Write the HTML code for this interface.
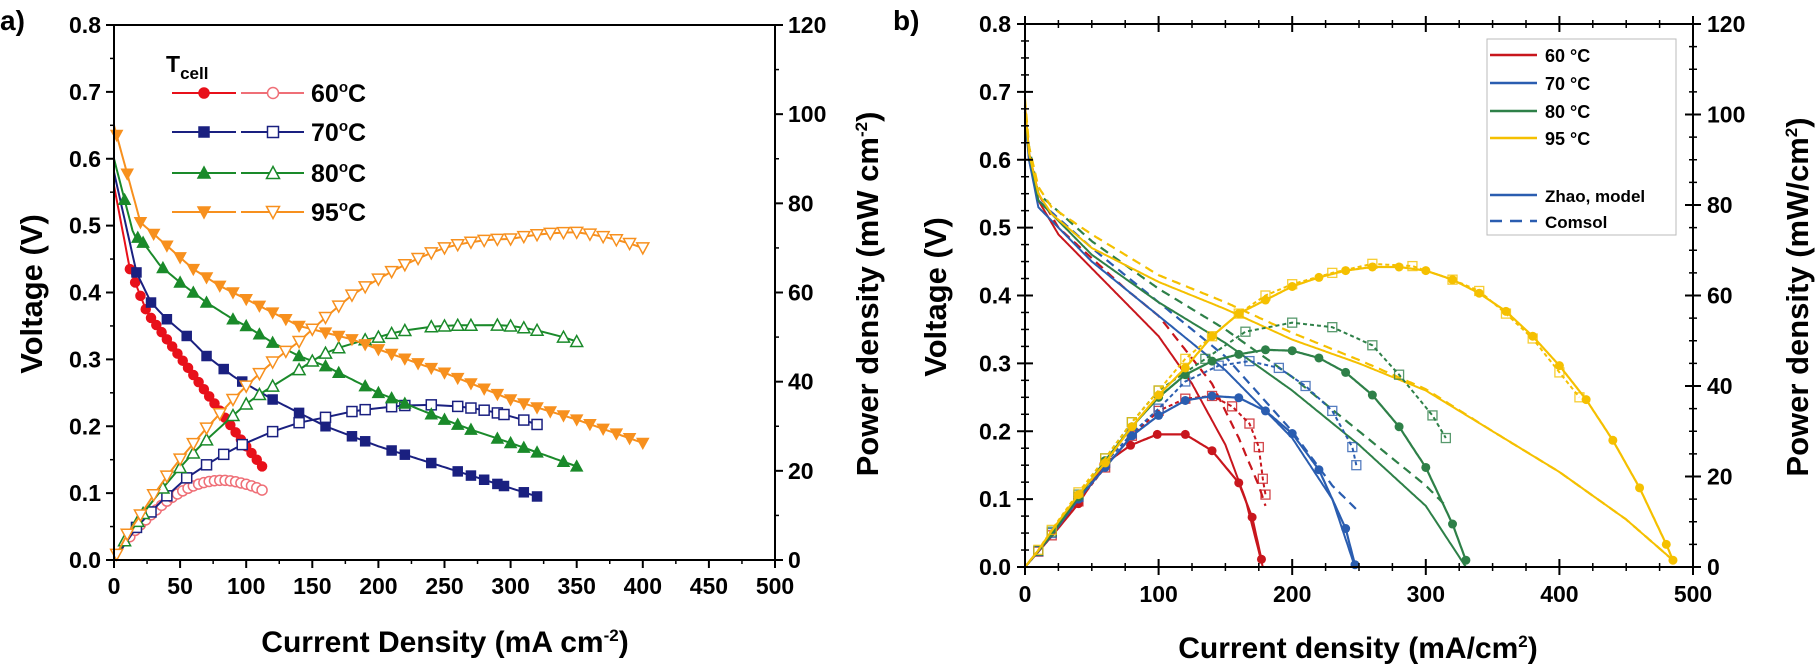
<!DOCTYPE html>
<html><head><meta charset="utf-8"><style>
html,body{margin:0;padding:0;background:#fff;}
svg{display:block;font-family:"Liberation Sans",Arial,sans-serif;font-weight:bold;}
</style></head><body>
<svg id="s" width="1816" height="667" viewBox="0 0 1816 667" xmlns="http://www.w3.org/2000/svg"></svg>
<script>
const S=document.getElementById('s');let h='';
function interp(pts,x){for(let i=0;i<pts.length-1;i++){if(x>=pts[i][0]&&x<=pts[i+1][0]){const t=(x-pts[i][0])/(pts[i+1][0]-pts[i][0]);return pts[i][1]+t*(pts[i+1][1]-pts[i][1]);}}return pts[pts.length-1][1];}
function path(pts,X,Y,col,w,dash){let d=pts.map((p,i)=>(i?'L':'M')+X(p[0]).toFixed(1)+' '+Y(p[1]).toFixed(1)).join(' ');h+=`<path d="${d}" fill="none" stroke="${col}" stroke-width="${w}" ${dash?'stroke-dasharray="'+dash+'"':''}/>`;}
function smooth(pts,step){let a=[];const x0=pts[0][0],x1=pts[pts.length-1][0];for(let x=x0;x<x1;x+=step)a.push([x,interp(pts,x)]);a.push([x1,pts[pts.length-1][1]]);return a;}
function mk(type,x,y,col,fill,r){r=r||5;const f=fill?col:'#fff';
 if(type=='c')h+=`<circle cx="${x}" cy="${y}" r="${r}" fill="${f}" stroke="${col}" stroke-width="1.5"/>`;
 else if(type=='s')h+=`<rect x="${x-r}" y="${y-r}" width="${2*r}" height="${2*r}" fill="${f}" stroke="${col}" stroke-width="1.5"/>`;
 else if(type=='t')h+=`<polygon points="${x},${y-r-1} ${x-r-1},${y+r} ${x+r+1},${y+r}" fill="${f}" stroke="${col}" stroke-width="1.5"/>`;
 else h+=`<polygon points="${x},${y+r+1} ${x-r-1},${y-r} ${x+r+1},${y-r}" fill="${f}" stroke="${col}" stroke-width="1.5"/>`;}
function txt(x,y,s,size,anchor,extra){h+=`<text x="${x}" y="${y}" font-size="${size}" text-anchor="${anchor||'middle'}" ${extra||''}>${s}</text>`;}

// ---------- Panel a ----------
const aX=i=>114+i*661/500, aV=v=>560-v/0.8*535, aP=p=>560-p/120*535;
const A=[
 ['#e8101a','#ef6f77','c',[[0,0.56],[12,0.435],[25,0.37],[40,0.33],[55,0.29],[70,0.25],[85,0.21],[96,0.18],[108,0.15],[112,0.14]],[12,16,20,24,28,32,36,40,44,48,52,56,60,64,68,72,76,80,84,88,92,96,100,104,108,112]],
 ['#1a2080','#1a2080','s',[[0,0.58],[17,0.43],[28,0.385],[40,0.36],[55,0.335],[70,0.305],[90,0.275],[120,0.24],[140,0.22],[160,0.2],[200,0.17],[240,0.145],[280,0.12],[320,0.095]],[17,28,40,55,70,83,97,120,140,160,180,190,210,220,240,260,270,280,290,295,310,320]],
 ['#1a8a2a','#1a8a2a','t',[[0,0.6],[15,0.485],[20,0.48],[35,0.44],[50,0.415],[70,0.385],[90,0.36],[100,0.35],[120,0.325],[140,0.305],[160,0.29],[170,0.28],[200,0.25],[250,0.21],[270,0.195],[300,0.175],[350,0.14]],[8,18,22,37,50,60,70,90,100,110,120,140,150,160,170,190,200,210,220,240,250,260,270,290,300,310,320,340,350]],
 ['#f7901e','#f7901e','v',[[0,0.65],[20,0.505],[40,0.47],[60,0.435],[80,0.41],[100,0.39],[120,0.37],[140,0.35],[180,0.33],[200,0.315],[250,0.28],[300,0.24],[350,0.21],[400,0.175]],[2,10,20,30,40,50,60,70,80,90,100,110,120,130,140,150,160,170,180,190,200,210,220,230,240,250,260,270,280,290,300,310,320,330,340,350,360,370,380,390,400]]
];
A.forEach(([c,cp,t,pts,xs])=>{
 path(smooth(pts,2),aX,aV,c,2);
 const pp=[[0,0]].concat(xs.map(x=>[x,x*interp(pts,x)]));
 path(pp,aX,aP,cp,2);
 xs.forEach(x=>{const v=interp(pts,x);mk(t,aX(x),aV(v),c,true,4.5);mk(t,aX(x),aP(x*v),cp,false,5);});
});
// axes a
h+=`<path d="M114 25 V560 H775 V25 Z" fill="none" stroke="#000" stroke-width="2"/>`;
for(let i=0;i<=8;i++){const y=aV(i/10);h+=`<path d="M106 ${y} H114" stroke="#000" stroke-width="2"/>`;txt(101,y+8,(i/10).toFixed(1),23,'end');}
for(let i=0;i<8;i++){const y=aV(i/10+0.05);h+=`<path d="M110 ${y} H114" stroke="#000" stroke-width="1.5"/>`;}
for(let i=0;i<=6;i++){const y=aP(i*20);h+=`<path d="M775 ${y} H783" stroke="#000" stroke-width="2"/>`;txt(788,y+8,i*20,23,'start');}
for(let i=0;i<6;i++){const y=aP(i*20+10);h+=`<path d="M775 ${y} H779" stroke="#000" stroke-width="1.5"/>`;}
for(let i=0;i<=10;i++){const x=aX(i*50);h+=`<path d="M${x} 560 V568" stroke="#000" stroke-width="2"/>`;txt(x,594,i*50,23);}
for(let i=0;i<10;i++){const x=aX(i*50+25);h+=`<path d="M${x} 560 V564" stroke="#000" stroke-width="1.5"/>`;}
txt(445,652,'Current Density (mA cm<tspan font-size="17" dy="-11">-2</tspan><tspan dy="11">)</tspan>',30);
h+=`<text transform="translate(42,294) rotate(-90)" font-size="31" text-anchor="middle">Voltage (V)</text>`;
h+=`<text transform="translate(878,294) rotate(-90)" font-size="31" text-anchor="middle">Power density (mW cm<tspan font-size="17" dy="-11">-2</tspan><tspan dy="11">)</tspan></text>`;
txt(0,30,'a)',28,'start');
// legend a
txt(166,72,'T<tspan font-size="17" dy="7">cell</tspan>',23,'start');
const LA=[['#e8101a','#ef6f77','c','60'],['#1a2080','#1a2080','s','70'],['#1a8a2a','#1a8a2a','t','80'],['#f7901e','#f7901e','v','95']];
LA.forEach(([c,cp,t,l],i)=>{const y=[93,132,173,212][i];
 h+=`<path d="M172 ${y} H236" stroke="${c}" stroke-width="2"/><path d="M241 ${y} H304" stroke="${cp}" stroke-width="2"/>`;
 mk(t,204,y,c,true,5);mk(t,273,y,cp,false,5.5);
 txt(311,y+9,l+'<tspan font-size="15" dy="-10">o</tspan><tspan dy="10">C</tspan>',25,'start');});

// ---------- Panel b ----------
const bX=i=>1025+i*668/500, bV=v=>567-v/0.8*543, bP=p=>567-p/120*543;
const R='#c8161d',B='#2a5db0',G='#2e8048',Y='#f5c000';
const BV=[
 [R,[[0,0.68],[3,0.6],[10,0.54],[25,0.49],[50,0.44],[75,0.39],[100,0.34],[125,0.27],[150,0.18],[165,0.1],[178,0]],
    [[0,0.68],[3,0.61],[10,0.55],[25,0.5],[50,0.455],[75,0.41],[100,0.37],[120,0.32],[140,0.27],[160,0.19],[175,0.12],[180,0.09]]],
 [B,[[0,0.66],[3,0.6],[10,0.53],[50,0.45],[100,0.37],[150,0.29],[200,0.19],[230,0.1],[247,0]],
    [[0,0.67],[3,0.61],[10,0.54],[50,0.47],[100,0.39],[150,0.31],[200,0.2],[230,0.12],[248,0.085]]],
 [G,[[0,0.67],[3,0.61],[10,0.54],[50,0.46],[100,0.39],[150,0.33],[200,0.26],[250,0.18],[300,0.09],[330,0]],
    [[0,0.67],[3,0.62],[10,0.55],[50,0.48],[100,0.41],[150,0.35],[200,0.28],[250,0.2],[300,0.12],[315,0.09]]],
 [Y,[[0,0.68],[3,0.61],[10,0.55],[20,0.52],[50,0.47],[100,0.42],[150,0.38],[200,0.335],[250,0.3],[300,0.26],[350,0.2],[400,0.14],[450,0.07],[485,0.01]],
    [[0,0.69],[3,0.62],[10,0.56],[20,0.53],[50,0.49],[100,0.43],[150,0.39],[200,0.345],[250,0.305],[300,0.262],[350,0.2],[400,0.14],[450,0.07],[485,0.01]]]
];
const BP=[
 [R,[[0,0],[20,6.8],[40,14],[59,22.7],[79,26.9],[99,29.3],[120,29.3],[140,25.7],[160,18.6],[170,11],[177,1.7]],
    [[0,0],[10,3.4],[20,7],[40,14.5],[60,22],[80,29],[100,34.5],[120,37.2],[140,37.8],[155,35.5],[168,31.7],[175,26.5],[178,19.5],[180,16]]],
 [B,[[0,0],[20,7],[40,15],[60,22],[80,29],[100,33.5],[120,36.8],[140,37.8],[160,37.4],[180,34.5],[200,29.5],[220,21.5],[240,8.5],[247,0.5]],
    [[0,0],[10,3.5],[20,7.5],[40,15.5],[60,23],[80,29.5],[100,35],[120,41],[145,44.5],[168,45.5],[190,44],[210,40],[230,34.5],[245,26.5],[248,22.5]]],
 [G,[[0,0],[20,7.2],[40,15.5],[60,23.5],[80,31],[100,37.5],[120,42.5],[140,45.5],[160,47],[180,48],[200,47.8],[220,46.2],[240,43],[260,38],[280,31],[300,22],[320,9.5],[330,1.5]],
    [[0,0],[10,3.6],[20,7.8],[40,16],[60,24],[80,32],[100,39],[135,46],[165,52],[200,54],[230,53],[260,49],[280,42.5],[305,33.5],[315,28.5]]],
 [Y,[[0,0],[10,3.7],[20,8],[40,16],[60,23],[80,31],[100,38],[120,44],[140,51],[160,56],[180,59],[200,62],[220,64],[240,65.5],[260,66.3],[280,66.3],[300,65.5],[320,63.5],[340,60.5],[360,56.5],[380,51],[400,44.5],[420,37],[440,28],[460,17.5],[480,5],[485,1.5]],
    [[0,0],[10,3.8],[20,8.2],[40,16.5],[60,24],[80,32],[100,39],[120,46],[140,51],[160,56],[180,60],[200,62.5],[230,65],[260,67],[290,66.5],[320,63.5],[340,61],[360,56],[380,50.5],[400,43],[415,37.5]]]
];
BV.forEach(([c,s,d])=>{path(smooth(d,1),bX,bV,c,2.2,'9 6');path(smooth(s,1),bX,bV,c,2);});
BP.forEach(([c,s,d])=>{
 path(smooth(d,1),bX,bP,c,2,'4 3');
 d.slice(1).forEach(p=>{h+=`<rect x="${bX(p[0])-4.5}" y="${bP(p[1])-4.5}" width="9" height="9" fill="none" stroke="${c}" stroke-width="1.3" opacity="0.8"/>`;});
 path(smooth(s,1),bX,bP,c,2.2);
 s.slice(1).forEach(p=>{if(p[0]>=40||c==R&&p[0]>=59)h+=`<circle cx="${bX(p[0])}" cy="${bP(p[1])}" r="4.5" fill="${c}"/>`;});
});
// axes b
h+=`<path d="M1025 24 V567 H1693 V24 Z" fill="none" stroke="#000" stroke-width="2"/>`;
for(let i=0;i<=8;i++){const y=bV(i/10);h+=`<path d="M1017 ${y} H1033" stroke="#000" stroke-width="2"/>`;txt(1011,y+8,(i/10).toFixed(1),23,'end');}
for(let i=0;i<8;i++){for(let k=1;k<4;k++){const y=bV(i/10+k*0.025);h+=`<path d="M1021 ${y} H1029" stroke="#000" stroke-width="1.5"/>`;}}
for(let i=0;i<=6;i++){const y=bP(i*20);h+=`<path d="M1685 ${y} H1701" stroke="#000" stroke-width="2"/>`;txt(1707,y+8,i*20,23,'start');}
for(let i=0;i<6;i++){for(let k=1;k<4;k++){const y=bP(i*20+k*5);h+=`<path d="M1689 ${y} H1697" stroke="#000" stroke-width="1.5"/>`;}}
for(let i=0;i<=5;i++){const x=bX(i*100);h+=`<path d="M${x} 559 V575 M${x} 16 V32" stroke="#000" stroke-width="2"/>`;txt(x,602,i*100,23);}
for(let i=0;i<5;i++){for(let k=1;k<4;k++){const x=bX(i*100+k*25);h+=`<path d="M${x} 563 V571 M${x} 20 V28" stroke="#000" stroke-width="1.5"/>`;}}
txt(1358,658,'Current density (mA/cm<tspan font-size="17" dy="-11">2</tspan><tspan dy="11">)</tspan>',30);
h+=`<text transform="translate(946,297) rotate(-90)" font-size="31" text-anchor="middle">Voltage (V)</text>`;
h+=`<text transform="translate(1808,297) rotate(-90)" font-size="31" text-anchor="middle">Power density (mW/cm<tspan font-size="17" dy="-11">2</tspan><tspan dy="11">)</tspan></text>`;
txt(893,30,'b)',28,'start');
// legend b
h+=`<rect x="1487" y="39" width="189" height="196" fill="#fff" stroke="#bbb" stroke-width="1"/>`;
[[R,'60 °C',55],[B,'70 °C',83],[G,'80 °C',111],[Y,'95 °C',138]].forEach(([c,l,y])=>{h+=`<path d="M1490 ${y} H1537" stroke="${c}" stroke-width="2.5"/>`;txt(1545,y+7,l,18,'start');});
h+=`<path d="M1490 195 H1537" stroke="${B}" stroke-width="2.5"/>`;txt(1545,202,'Zhao, model',17,'start');
h+=`<path d="M1490 221 H1537" stroke="${B}" stroke-width="2.5" stroke-dasharray="12 8"/>`;txt(1545,228,'Comsol',17,'start');
S.innerHTML=h;
</script>
</body></html>
